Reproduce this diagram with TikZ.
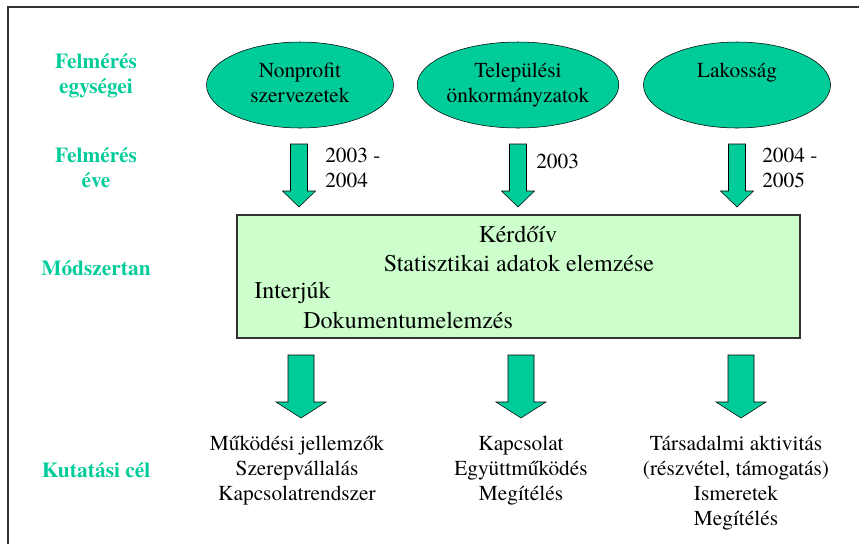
\documentclass[tikz,border=0pt]{standalone}
\usepackage{fontspec}
\setmainfont{texgyretermes}[Extension=.otf,UprightFont=*-regular,BoldFont=*-bold,ItalicFont=*-italic,BoldItalicFont=*-bolditalic]
\usetikzlibrary{shapes.geometric}
\definecolor{zold}{RGB}{0,204,153}
\definecolor{vilagos}{RGB}{204,255,204}

\begin{document}
\begin{tikzpicture}[x=0.75pt,y=-0.75pt,
  cim/.style={text=zold,font=\fontsize{16}{18.75}\selectfont\bfseries,anchor=base,inner sep=0pt},
  szoveg/.style={font=\fontsize{16}{18.75}\selectfont,anchor=base,inner sep=0pt},
  nagy/.style={font=\fontsize{18}{21}\selectfont,anchor=base,inner sep=0pt},
  egyseg/.style={ellipse,draw=black,fill=zold,minimum width=140.25pt,minimum height=64.5pt,inner sep=0pt,align=center,font=\fontsize{16}{18.75}\selectfont},
  nyil/.style={draw=black,fill=zold,line join=miter}]
\useasboundingbox (0,0) rectangle (859,544);
\draw[line width=0.9pt,black!80] (8,544) -- (8,7) -- (859,7);
% bal oldali cimkek
\node[cim] (egys1) at (96,68) {Felmérés};
\node[cim] (egys2) at (96,93) {egységei};
\node[cim] (ev1) at (96,162) {Felmérés};
\node[cim] (ev2) at (96,187) {éve};
\node[cim] (mod) at (96,275) {Módszertan};
\node[cim] (cel) at (96,477) {Kutatási cél};
% felmeres egysegei
\node[egyseg] (nonprofit) at (300,85) {\strut Nonprofit\\\strut szervezetek};
\node[egyseg] (onkorm) at (518,85) {\strut Települési\\\strut önkormányzatok};
\node[egyseg] (lakos) at (737,85) {\strut Lakosság\\\strut};
\foreach \x in {299,518,737}
  \draw[nyil] ({\x-8.5},144) -- ({\x+8.5},144) -- ({\x+8.5},191) -- ({\x+16.5},191) -- (\x,207) -- ({\x-16.5},191) -- ({\x-8.5},191) -- cycle;
\node[szoveg,anchor=base west] (evA1) at (325,162) {2003 -};
\node[szoveg,anchor=base west] (evA2) at (325,187) {2004};
\node[szoveg,anchor=base west] (evB) at (536,168) {2003};
\node[szoveg,anchor=base west] (evC1) at (762,162) {2004 -};
\node[szoveg,anchor=base west] (evC2) at (762,187) {2005};
% modszertan
\node[draw=black!80,fill=vilagos,line width=0.9pt,minimum width=422.25pt,minimum height=92.25pt,inner sep=0pt] (modszer) at (518.5,276.5) {};
\node[nagy] (kerdoiv) at (518,242) {Kérdőív};
\node[nagy] (stat) at (519,271) {Statisztikai adatok elemzése};
\node[nagy,anchor=base west] (interju) at (254,298) {Interjúk};
\node[nagy,anchor=base west] (dok) at (303,328) {Dokumentumelemzés};
\foreach \x in {301,521,741}
  \draw[nyil] ({\x-13},355) -- ({\x+13},355) -- ({\x+13},402) -- ({\x+25},402) -- (\x,418) -- ({\x-25},402) -- ({\x-13},402) -- cycle;
% kutatasi cel
\foreach \t [count=\i] in {Működési jellemzők, Szerepvállalás, Kapcsolatrendszer}
  \node[szoveg] (celA\i) at (297,{424.7+25.3*\i}) {\t};
\foreach \t [count=\i] in {Kapcsolat, Együttműködés, Megítélés}
  \node[szoveg] (celB\i) at (521,{424.7+25.3*\i}) {\t};
\foreach \t [count=\i] in {Társadalmi aktivitás, {(részvétel, támogatás)}, Ismeretek, Megítélés}
  \node[szoveg] (celC\i) at (736,{424.7+25.3*\i}) {\t};
\end{tikzpicture}
\end{document}
